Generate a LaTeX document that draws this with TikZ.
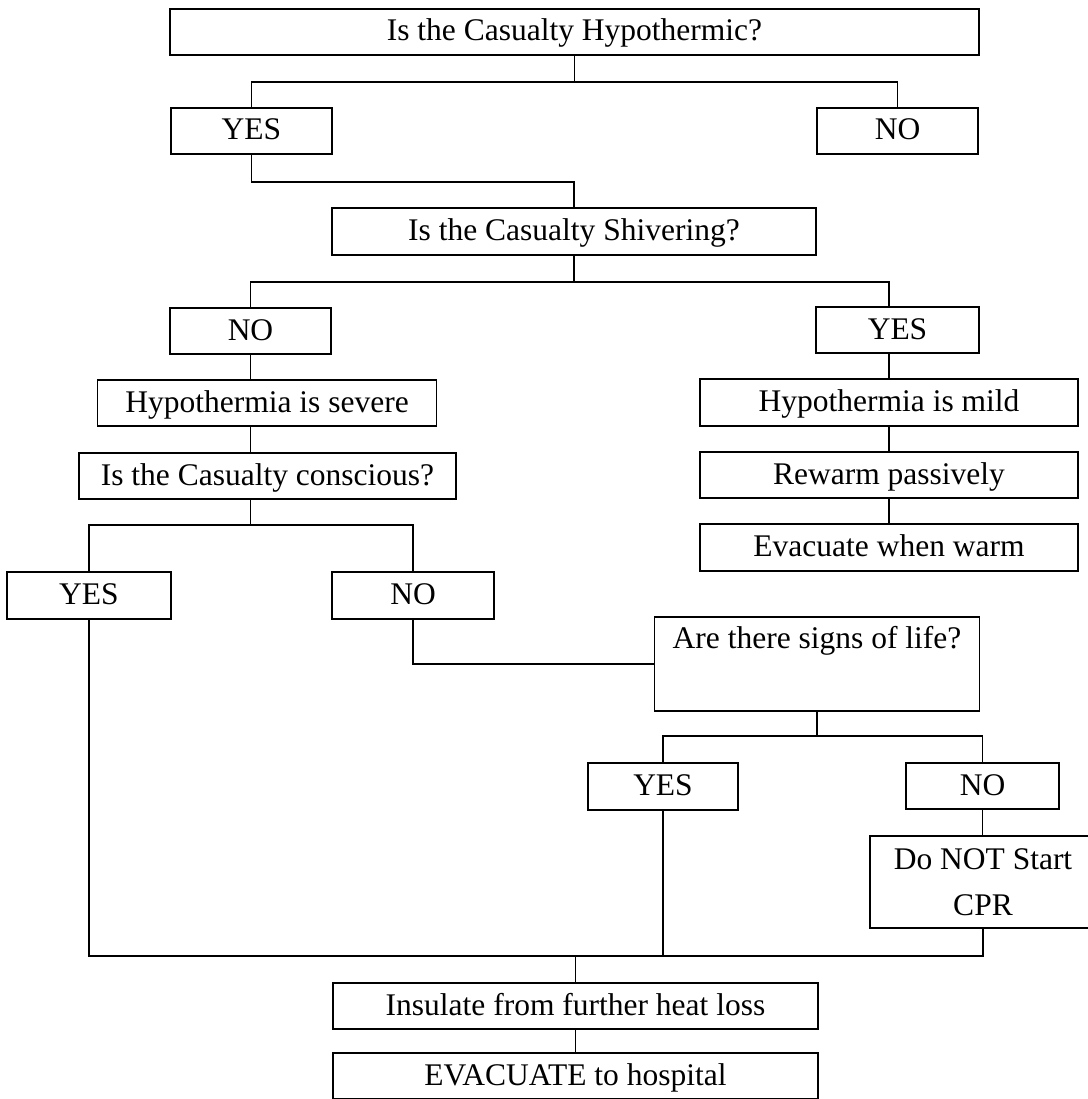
\documentclass[tikz,border=0pt]{standalone}
\usepackage{fontspec}
\setmainfont{Liberation Serif}

\begin{document}
\begin{tikzpicture}[x=1pt, y=-1pt, line width=1.2pt,
  every node/.style={font=\fontsize{31.5}{46}\selectfont},
  box/.style={draw=black, rectangle, inner sep=0pt, minimum height=46pt, text height=24pt, text depth=6pt}]
\useasboundingbox (0,0) rectangle (1087,1099);
% Hypothermic?
\node[box, minimum width=809pt] (hypo) at (574.5,32) {Is the Casualty Hypothermic?};
\node[box, minimum width=161pt] (hypoyes) at (251.5,131) {YES};
\node[box, minimum width=161pt] (hypono) at (897.5,131) {NO};
% Shivering?
\node[box, minimum width=484pt, minimum height=47pt] (shiver) at (574,231.5) {Is the Casualty Shivering?};
\node[box, minimum width=161pt] (shivno) at (250.5,331) {NO};
\node[box, minimum width=163pt] (shivyes) at (897.5,330) {YES};
% severe side
\node[box, minimum width=339pt] (severe) at (267,403) {Hypothermia is severe};
\node[box, minimum width=377pt] (conscious) at (267.5,476) {Is the Casualty conscious?};
\node[box, minimum width=164pt, minimum height=47pt] (consyes) at (89,595.5) {YES};
\node[box, minimum width=162pt, minimum height=47pt] (consno) at (413,595.5) {NO};
% mild side
\node[box, minimum width=378pt, minimum height=47pt] (mild) at (889,402.5) {Hypothermia is mild};
\node[box, minimum width=378pt] (rewarm) at (889,475) {Rewarm passively};
\node[box, minimum width=378pt, minimum height=47pt] (evacwarm) at (889,547.5) {Evacuate when warm};
% Signs of life?
\node[box, minimum width=325pt, minimum height=94pt, text height=31pt, text depth=63pt] (signs) at (817,664) {Are there signs of life?};
\node[box, minimum width=150pt, minimum height=47pt] (lifeyes) at (663,786.5) {YES};
\node[box, minimum width=153pt] (lifeno) at (982.5,786) {NO};
\node[draw=black, inner sep=0pt, minimum width=226pt, minimum height=92pt, align=center] (cpr) at (983,882) {Do NOT Start\\CPR};
% end
\node[box, minimum width=485pt] (insulate) at (575.5,1006) {Insulate from further heat loss};
\node[box, minimum width=485pt] (evac) at (575.5,1076) {EVACUATE to hospital};

% bus levels
\coordinate (bus1) at (0,82);
\coordinate (bus2) at (0,182);
\coordinate (bus3) at (0,282);
\coordinate (bus4) at (0,525);
\coordinate (bus6) at (0,736);
\coordinate (bus7) at (0,956);

\draw (hypo.south) -- (hypo.south |- bus1);
\draw (hypoyes.north) |- (hypo.south |- bus1) -| (hypono.north);
\draw (hypoyes.south) |- (shiver.north |- bus2) -- (shiver.north);
\draw (shiver.south) -- (shiver.south |- bus3);
\draw (shivno.north) |- (shiver.south |- bus3) -| (shivyes.north -| mild.north) -- (mild.north |- shivyes.north);
\draw (shivno.south) -- (shivno.south |- severe.north);
\draw (shivno.south |- severe.south) -- (shivno.south |- conscious.north);
\draw (mild.north) -- (mild.north |- shivyes.south);
\draw (mild.south) -- (rewarm.north);
\draw (rewarm.south) -- (evacwarm.north);
\draw (conscious.south -| shivno.south) -- (shivno.south |- bus4);
\draw (consyes.north) |- (shivno.south |- bus4) -| (consno.north);
\draw (consno.south) |- (signs.west);
\draw (signs.south) -- (signs.south |- bus6);
\draw (lifeyes.north) |- (signs.south |- bus6) -| (lifeno.north);
\draw (lifeno.south) -- (lifeno.south |- cpr.north);
\draw (consyes.south) |- (insulate.north |- bus7) -| (cpr.south);
\draw (lifeyes.south) -- (lifeyes.south |- bus7);
\draw (insulate.north |- bus7) -- (insulate.north);
\draw (insulate.south) -- (evac.north);
\end{tikzpicture}
\end{document}
